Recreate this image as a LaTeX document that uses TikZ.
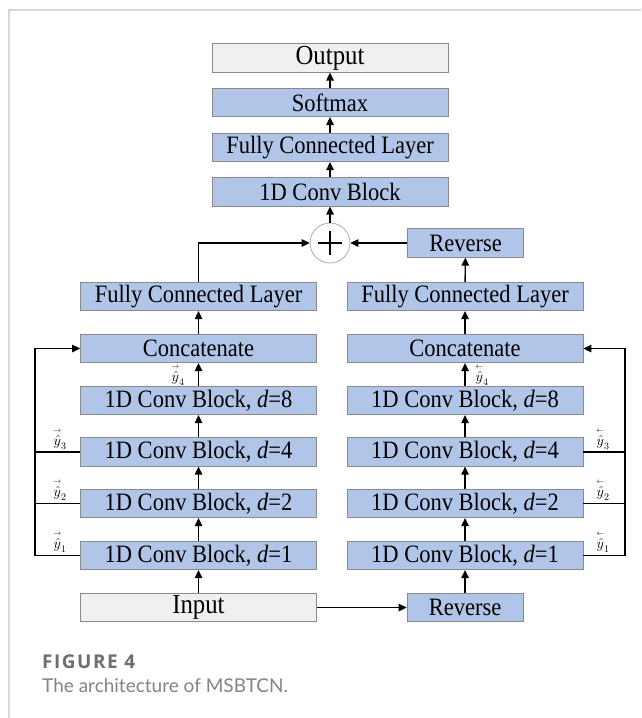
\documentclass[tikz,border=0pt]{standalone}
\usepackage{amsmath}
\usepackage{fontspec}
\setmainfont{Liberation Serif}
\newfontfamily\boxfont{Liberation Serif}[FakeStretch=0.9]
\newfontfamily\capfont{Lato}
\newfontfamily\figfont{Open Sans}[LetterSpace=8]
\usetikzlibrary{arrows.meta}
\definecolor{boxblue}{HTML}{B0C5E8}
\definecolor{boxgrey}{HTML}{F0F0F0}
\definecolor{edgegrey}{HTML}{8A8A8A}
\definecolor{framegrey}{HTML}{D6D6D6}
\definecolor{capgrey}{HTML}{6E6E6E}
\newcommand{\fwd}[1]{{\overset{\scriptscriptstyle\rightarrow}{\hat{y}}}_{#1}}
\newcommand{\bwd}[1]{{\overset{\scriptscriptstyle\leftarrow}{\hat{y}}}_{#1}}
\begin{document}
\begin{tikzpicture}[x=1pt,y=-1pt,
  blk/.style={draw=edgegrey, line width=0.8pt, fill=boxblue, inner sep=0pt,
    minimum width=236pt, minimum height=28.5pt,
    font=\boxfont\fontsize{25}{28}\selectfont},
  gblk/.style={blk, fill=boxgrey, font=\boxfont\fontsize{27.5}{30}\selectfont},
  rblk/.style={blk, minimum width=116pt},
  arr/.style={line width=1.4pt, -{Triangle[length=8pt,width=7.5pt]}},
  ln/.style={line width=1.4pt},
  lab/.style={inner sep=0pt, font=\fontsize{14}{16}\selectfont}]
\useasboundingbox (0,0) rectangle (641,718);
\fill[white] (0,0) rectangle (641,718);
\draw[framegrey, line width=2pt] (9,718) -- (9,10) -- (641,10);

% top column
\node[gblk] (out) at (330,58) {Output};
\node[blk] (soft) at (330,102.5) {Softmax};
\node[blk] (fct) at (330,147.5) {Fully Connected Layer};
\node[blk] (conv) at (330,192) {1D Conv Block};
\node[circle, draw=edgegrey!70, line width=0.8pt, fill=white, minimum size=40pt, inner sep=0pt] (plus) at (330,243) {};
\draw[line width=1.4pt] (318,243) -- (342,243) (330,231) -- (330,255);
\node[rblk] (revt) at (465.5,243) {Reverse};

% left column
\node[blk] (fcl) at (198.5,296.5) {Fully Connected Layer};
\node[blk] (catl) at (198.5,348.5) {Concatenate};
\node[blk] (d8l) at (198.5,400.5) {1D Conv Block, \textit{d}=8};
\node[blk] (d4l) at (198.5,452) {1D Conv Block, \textit{d}=4};
\node[blk] (d2l) at (198.5,503.5) {1D Conv Block, \textit{d}=2};
\node[blk] (d1l) at (198.5,555.5) {1D Conv Block, \textit{d}=1};
\node[gblk] (inp) at (198.5,607.5) {Input};

% right column
\node[blk] (fcr) at (465,296.5) {Fully Connected Layer};
\node[blk] (catr) at (465,348.5) {Concatenate};
\node[blk] (d8r) at (465,400.5) {1D Conv Block, \textit{d}=8};
\node[blk] (d4r) at (465,452) {1D Conv Block, \textit{d}=4};
\node[blk] (d2r) at (465,503.5) {1D Conv Block, \textit{d}=2};
\node[blk] (d1r) at (465,555.5) {1D Conv Block, \textit{d}=1};
\node[rblk] (revb) at (465,607.5) {Reverse};

% top chain
\draw[arr] (soft) -- (out);
\draw[arr] (fct) -- (soft);
\draw[arr] (conv) -- (fct);
\draw[arr] (plus) -- (conv);
\draw[arr] (fcl.north) |- (plus.west);
\draw[arr] (revt) -- (plus);
\draw[arr] (fcr) -- (revt);

% left chain
\draw[arr] (inp) -- (d1l);
\draw[arr] (d1l) -- (d2l);
\draw[arr] (d2l) -- (d4l);
\draw[arr] (d4l) -- (d8l);
\draw[arr] (d8l) -- (catl);
\draw[arr] (catl) -- (fcl);

% right chain
\draw[arr] (inp) -- (revb);
\draw[arr] (revb) -- (d1r);
\draw[arr] (d1r) -- (d2r);
\draw[arr] (d2r) -- (d4r);
\draw[arr] (d4r) -- (d8r);
\draw[arr] (d8r) -- (catr);
\draw[arr] (catr) -- (fcr);

% feedback left
\coordinate (fbl) at (35,555.5);
\draw[arr, line join=miter] (d1l.west) -- (fbl) |- (catl.west);
\draw[ln] (d2l.west) -- (d2l.west -| fbl);
\draw[ln] (d4l.west) -- (d4l.west -| fbl);

% feedback right
\coordinate (fbr) at (625,555.5);
\draw[arr, line join=miter] (d1r.east) -- (fbr) |- (catr.east);
\draw[ln] (d2r.east) -- (d2r.east -| fbr);
\draw[ln] (d4r.east) -- (d4r.east -| fbr);

% labels
\node[lab] (l4) at (178,375) {$\fwd{4}$};
\node[lab] (l3) at (60,439) {$\fwd{3}$};
\node[lab] (l2) at (60,490) {$\fwd{2}$};
\node[lab] (l1) at (60,542) {$\fwd{1}$};
\node[lab] (r4) at (482,375) {$\bwd{4}$};
\node[lab] (r3) at (603,439) {$\bwd{3}$};
\node[lab] (r2) at (603,490) {$\bwd{2}$};
\node[lab] (r1) at (603,542) {$\bwd{1}$};

% caption
\node[anchor=base west, inner sep=0pt, text=capgrey, font=\figfont\bfseries\fontsize{19}{21}\selectfont] (fig) at (42,668) {FIGURE 4};
\node[anchor=base west, inner sep=0pt, text=capgrey!85, font=\capfont\fontsize{19}{22}\selectfont] (cap) at (42,692) {The architecture of MSBTCN.};
\end{tikzpicture}
\end{document}
